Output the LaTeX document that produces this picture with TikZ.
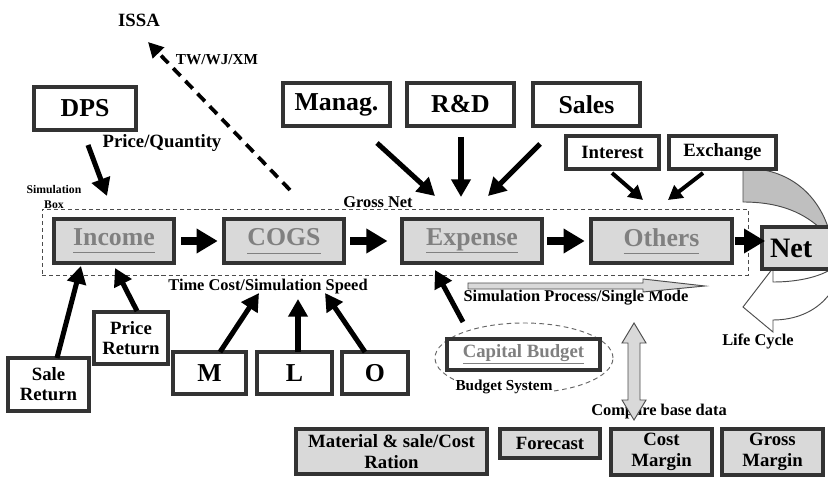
\documentclass[tikz,border=0pt]{standalone}
\usepackage{fontspec}
\setmainfont{Liberation Serif}
\usetikzlibrary{arrows.meta}

\tikzset{
  boxfont/.style={font=\fontsize{22}{24}\selectfont\bfseries},
  labelfont/.style={font=\fontsize{16}{17}\selectfont\bfseries},
  notefont/.style={font=\fontsize{14}{15}\selectfont\bfseries},
  minorfont/.style={font=\fontsize{13}{14}\selectfont\bfseries},
  tinyfont/.style={font=\fontsize{10}{12}\selectfont\bfseries},
  whitebox/.style={draw=black!80, line width=2.7pt, fill=white, inner sep=0pt, align=center},
  greybox/.style={whitebox, fill=black!15},
  flowtext/.style={text=black!50},
  flowarrow/.style={line width=6pt, -{Triangle[length=18pt,width=20pt]}},
  thickarrow/.style={line width=4.3pt, -{Triangle[length=15pt,width=16pt]}},
  thinarrow/.style={line width=3.4pt, -{Triangle[length=12pt,width=13pt]}},
  issaarrow/.style={line width=3.2pt, dash pattern=on 9pt off 6pt, -{Triangle[length=13pt,width=13pt]}},
  hollowarrow/.style={fill=black!15, draw=black!70, line width=0.8pt},
}
\newcommand{\flowname}[1]{\underline{#1\vphantom{p}}}

\begin{document}
\begin{tikzpicture}[x=0.03cm, y=-0.03cm]
\useasboundingbox (0,0) rectangle (828,478);
\fill[white] (0,0) rectangle (828,478);

% life cycle band round the net box
\path[save path=\bandpath] (743,168) .. controls (785,168) and (815,190) .. (828,227)
  .. controls (842,255) and (842,280) .. (828,296)
  .. controls (815,312) and (795,320) .. (773,320)
  -- (773,332) -- (743,307) -- (773,268) -- (773,282)
  .. controls (795,282) and (815,278) .. (828,271)
  .. controls (835,262) and (832,240) .. (820,228)
  .. controls (800,210) and (775,202) .. (743,202) -- cycle;
\fill[white, use path=\bandpath];
\begin{scope}
  \clip (700,150) rectangle (860,250);
  \fill[black!25, use path=\bandpath];
\end{scope}
\draw[black!70, line width=0.8pt, use path=\bandpath];

% simulation box and budget system
\node[draw=black!70, line width=0.8pt, dash pattern=on 3.5pt off 2.5pt, minimum width=21.18cm, minimum height=1.98cm, inner sep=0pt] (simbox) at (395,242) {};
\draw[black!60, line width=0.8pt, dash pattern=on 4pt off 3pt] (524,358) ellipse [x radius=2.67cm, y radius=1.05cm];

% top row
\node[whitebox, boxfont, minimum width=3.06cm, minimum height=1.29cm] (dps) at (85,108.5) {DPS};
\node[whitebox, boxfont, minimum width=3.21cm, minimum height=1.29cm] (manag) at (336.5,104.5) {Manag.};
\node[whitebox, boxfont, minimum width=3.21cm, minimum height=1.29cm] (rd) at (460.5,104.5) {R\&D};
\node[whitebox, boxfont, minimum width=3.21cm, minimum height=1.29cm] (sales) at (586.5,104.5) {Sales};
\node[whitebox, labelfont, minimum width=2.79cm, minimum height=0.99cm] (interest) at (612.5,152.5) {Interest};
\node[whitebox, labelfont, minimum width=3.21cm, minimum height=0.99cm] (exchange) at (722.5,152.5) {Exchange};

% flow
\node[greybox, boxfont, flowtext, minimum width=3.6cm, minimum height=1.32cm] (income) at (114,241) {\flowname{Income}};
\node[greybox, boxfont, flowtext, minimum width=3.6cm, minimum height=1.32cm] (cogs) at (284,241) {\flowname{COGS}};
\node[greybox, boxfont, flowtext, minimum width=4.2cm, minimum height=1.32cm] (expense) at (472,241) {\flowname{Expense}};
\node[greybox, boxfont, flowtext, minimum width=4.23cm, minimum height=1.32cm] (others) at (661.5,241) {\flowname{Others}};
\node[greybox, font=\fontsize{24}{26}\selectfont\bfseries, text width=1.92cm, inner xsep=0.24cm, align=left, minimum height=1.26cm] (net) at (802,248) {Net};

% inputs below
\node[whitebox, labelfont, minimum width=2.43cm, minimum height=1.59cm] (sale) at (48.5,384.5) {Sale\\Return};
\node[whitebox, labelfont, minimum width=2.22cm, minimum height=1.56cm] (price) at (131,338) {Price\\Return};
\node[whitebox, boxfont, minimum width=2.19cm, minimum height=1.26cm] (m) at (209.5,373) {M};
\node[whitebox, boxfont, minimum width=2.25cm, minimum height=1.26cm] (l) at (294.5,373) {L};
\node[whitebox, boxfont, minimum width=1.98cm, minimum height=1.26cm] (o) at (375,373) {O};
\node[whitebox, labelfont, flowtext, minimum width=4.59cm, minimum height=0.93cm] (capital) at (523.5,354.5) {\underline{Capital Budget}};

% bottom row
\node[greybox, labelfont, line width=2.9pt, minimum width=5.73cm, minimum height=1.35cm] (material) at (391.5,451.5) {Material \& sale/Cost\\[1pt]Ration};
\node[greybox, labelfont, line width=2.9pt, minimum width=3.0cm, minimum height=0.87cm] (forecast) at (550,443.5) {Forecast};
\node[greybox, labelfont, line width=2.9pt, minimum width=3.03cm, minimum height=1.38cm] (costmargin) at (661.5,452) {Cost\\[1pt]Margin};
\node[greybox, labelfont, line width=2.9pt, minimum width=3.03cm, minimum height=1.38cm] (grossmargin) at (772.5,452) {Gross\\[1pt]Margin};

% texts
\node[labelfont] (issa) at (139,20) {ISSA};
\node[minorfont] (twlabel) at (217,60) {TW/WJ/XM};
\node[labelfont] (pricelabel) at (162,143) {Price/Quantity};
\node[tinyfont, align=center] (simlabel) at (54,197) {Simulation\\Box};
\node[notefont] (grosslabel) at (378,202) {Gross Net};
\node[notefont] (timelabel) at (268,287) {Time Cost/Simulation Speed};
\node[notefont] (processlabel) at (576,298) {Simulation Process/Single Mode};
\node[minorfont, fill=white, inner sep=1pt] (budgetlabel) at (504,387) {Budget System};
\node[notefont] (comparelabel) at (659,412) {Compare base data};
\node[notefont] (lifelabel) at (758,341) {Life Cycle};

% arrow ends
\coordinate (issaTail) at (290,190);
\coordinate (issaTip) at (148,42);
\coordinate (dpsTail) at (88,145);
\coordinate (dpsTip) at (107,196);
\coordinate (managTail) at (377,143);
\coordinate (managTip) at (435,196);
\coordinate (rdTail) at (461,137);
\coordinate (rdTip) at (461,197);
\coordinate (salesTail) at (540,144);
\coordinate (salesTip) at (488,196);
\coordinate (interestTail) at (612,173);
\coordinate (interestTip) at (643,200);
\coordinate (exchangeTail) at (703,173);
\coordinate (exchangeTip) at (668,200);
\coordinate (saleTail) at (57,358);
\coordinate (saleTip) at (81,266);
\coordinate (priceTail) at (137,311);
\coordinate (priceTip) at (115,268);
\coordinate (mTail) at (220,352);
\coordinate (mTip) at (259,293);
\coordinate (lTail) at (298,352);
\coordinate (lTip) at (298,299);
\coordinate (oTail) at (365,352);
\coordinate (oTip) at (325,293);
\coordinate (capitalTail) at (463,322);
\coordinate (capitalTip) at (435,270);

% arrows
\draw[issaarrow] (issaTail) -- (issaTip);
\draw[thickarrow] (dpsTail) -- (dpsTip);
\draw[thickarrow] (managTail) -- (managTip);
\draw[thickarrow] (rdTail) -- (rdTip);
\draw[thickarrow] (salesTail) -- (salesTip);
\draw[thinarrow] (interestTail) -- (interestTip);
\draw[thinarrow] (exchangeTail) -- (exchangeTip);
\draw[flowarrow, shorten <=5pt, shorten >=4pt] (income) -- (cogs);
\draw[flowarrow, shorten <=4pt, shorten >=11pt] (cogs) -- (expense);
\draw[flowarrow, shorten <=3pt, shorten >=4pt] (expense) -- (others);
\draw[flowarrow, shorten <=1pt, shorten >=-4pt] (others.east) -- (others.east -| net.west);
\draw[thickarrow] (saleTail) -- (saleTip);
\draw[thickarrow] (priceTail) -- (priceTip);
\draw[thickarrow] (mTail) -- (mTip);
\draw[thickarrow] (lTail) -- (lTip);
\draw[thickarrow] (oTail) -- (oTip);
\draw[thickarrow] (capitalTail) -- (capitalTip);

% hollow arrows
\draw[hollowarrow] (468,283) -- (643,283) -- (643,279) -- (705,286) -- (643,292) -- (643,289) -- (468,289) -- cycle;
\draw[hollowarrow] (634,323) -- (646,343) -- (640,343) -- (640,400) -- (646,400) -- (634,420) -- (622,400) -- (628,400) -- (628,343) -- (622,343) -- cycle;
\end{tikzpicture}
\end{document}
